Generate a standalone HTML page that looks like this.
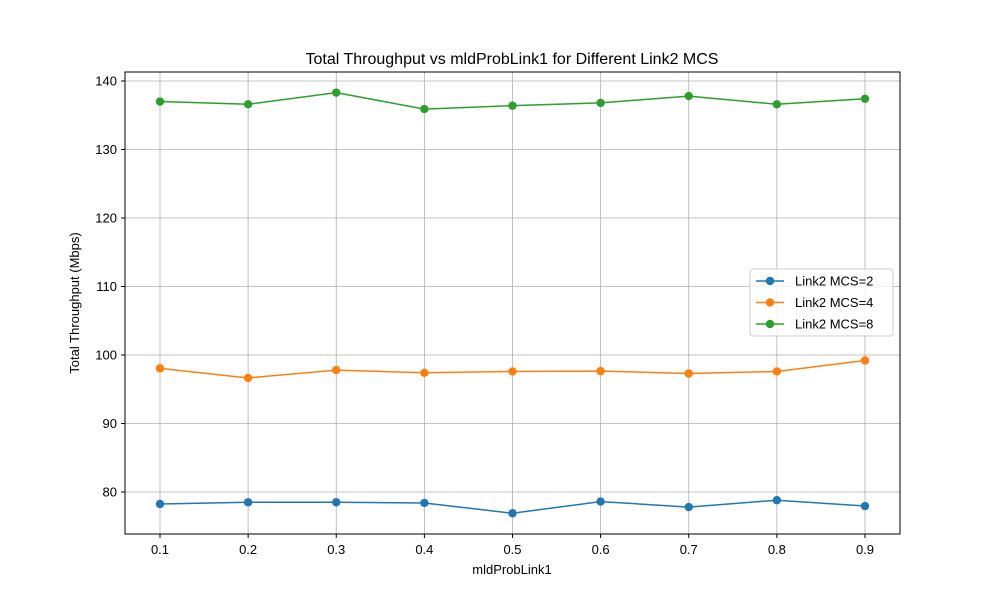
<!DOCTYPE html>
<html><head><meta charset="utf-8"><style>
body{margin:0;background:#fff}
svg{font-family:"Liberation Sans","DejaVu Sans",sans-serif}
</style></head><body>
<svg id="chart" width="1000" height="600" xmlns="http://www.w3.org/2000/svg">
<rect width="1000" height="600" fill="#fff"/>
<g id="grid"></g>
<g id="series"></g>
<rect x="125" y="72" width="775" height="462" fill="none" stroke="#000" stroke-width="1"/>
<g id="axes"></g>
<text x="512" y="64" text-anchor="middle" font-size="16">Total Throughput vs mldProbLink1 for Different Link2 MCS</text>
<text x="512" y="574" text-anchor="middle" font-size="13">mldProbLink1</text>
<text transform="translate(79,303) rotate(-90)" text-anchor="middle" font-size="13">Total Throughput (Mbps)</text>
<g id="legend"></g>
</svg>
<script>
const xValues=[0.1,0.2,0.3,0.4,0.5,0.6,0.7,0.8,0.9];
const mcs2=[78.25,78.5,78.5,78.4,76.9,78.6,77.8,78.8,77.95];
const mcs4=[98.05,96.65,97.8,97.4,97.6,97.65,97.3,97.6,99.2];
const mcs8=[137.0,136.6,138.3,135.9,136.4,136.8,137.8,136.6,137.4];
const xTicks=[0.1,0.2,0.3,0.4,0.5,0.6,0.7,0.8,0.9];
const yTicks=[80,90,100,110,120,130,140];
const seriesNames=["Link2 MCS=2","Link2 MCS=4","Link2 MCS=8"];
const colors=["#1f77b4","#ff7f0e","#2ca02c"];
const NS="http://www.w3.org/2000/svg";
const X=v=>160+(v-0.1)*(865-160)/0.8;
const Y=v=>492-(v-80)*(411/60);
function mk(t,a,p){const e=document.createElementNS(NS,t);for(const k in a)e.setAttribute(k,a[k]);p.appendChild(e);return e;}
const grid=document.getElementById('grid'),axes=document.getElementById('axes'),ser=document.getElementById('series'),leg=document.getElementById('legend');
xTicks.forEach(t=>{const x=X(t);
 const g=mk('line',{x1:x,x2:x,y1:72,y2:534,stroke:'#b0b0b0','stroke-width':0.8},grid);
 
 mk('line',{x1:x,x2:x,y1:534,y2:538,stroke:'#000'},axes);
 const l=mk('text',{x:x,y:554,'text-anchor':'middle','font-size':13},axes);l.textContent=t.toFixed(1);
 });
yTicks.forEach(t=>{const y=Y(t);
 const g=mk('line',{x1:125,x2:900,y1:y,y2:y,stroke:'#b0b0b0','stroke-width':0.8},grid);
 
 mk('line',{x1:121,x2:125,y1:y,y2:y,stroke:'#000'},axes);
 const l=mk('text',{x:117,y:y+4.5,'text-anchor':'end','font-size':13},axes);l.textContent=t;
 });
[mcs2,mcs4,mcs8].forEach((s,i)=>{
 const p=mk('polyline',{points:s.map((v,j)=>X(xValues[j])+','+Y(v)).join(' '),fill:'none',stroke:colors[i],'stroke-width':1.5},ser);
 
 s.forEach((v,j)=>{const c=mk('circle',{cx:X(xValues[j]),cy:Y(v),r:4.2,fill:colors[i]},ser);
  });});
const lb=mk('rect',{x:750,y:269,width:143,height:67,fill:'#fff','fill-opacity':0.8,stroke:'#ccc',rx:3},leg);

seriesNames.forEach((n,i)=>{const y=281+i*21.5;
 mk('line',{x1:756,x2:784,y1:y,y2:y,stroke:colors[i],'stroke-width':1.5},leg);
 mk('circle',{cx:770,cy:y,r:4.2,fill:colors[i]},leg);
 const t=mk('text',{x:795,y:y+4.5,'font-size':13},leg);t.textContent=n;
 });
</script>
</body></html>
